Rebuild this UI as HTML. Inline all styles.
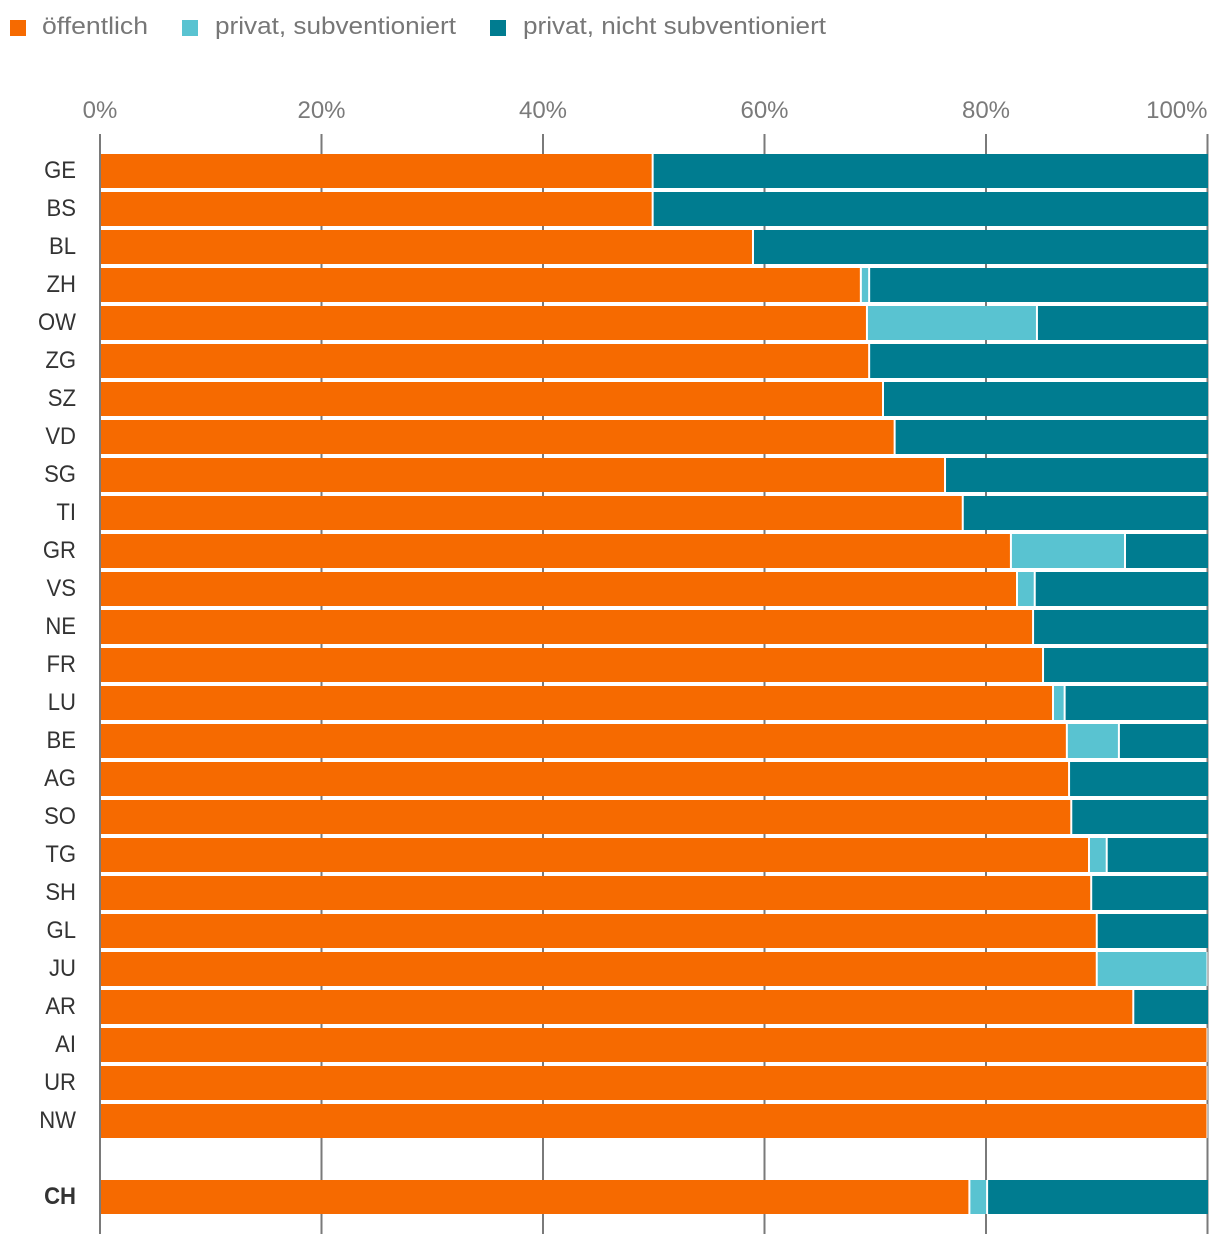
<!DOCTYPE html>
<html lang="de">
<head>
<meta charset="utf-8">
<title>Stacked bar chart</title>
<style>
html,body{margin:0;padding:0;background:#fff;}
svg{display:block;}
text{font-family:"Liberation Sans",sans-serif;font-size:24px;}
</style>
</head>
<body>
<svg id="chart" width="1220" height="1246" viewBox="0 0 1220 1246" xmlns="http://www.w3.org/2000/svg">
  <g>
    <g>
      <rect x="10" y="20" width="16" height="16" fill="#f66a00"/>
      <text x="42" y="34" fill="#777" textLength="106" lengthAdjust="spacingAndGlyphs">öffentlich</text>
    </g>
    <g>
      <rect x="182" y="20" width="16" height="16" fill="#59c3d1"/>
      <text x="215" y="34" fill="#777" textLength="241" lengthAdjust="spacingAndGlyphs">privat, subventioniert</text>
    </g>
    <g>
      <rect x="490" y="20" width="16" height="16" fill="#007c90"/>
      <text x="523" y="34" fill="#777" textLength="303" lengthAdjust="spacingAndGlyphs">privat, nicht subventioniert</text>
    </g>
  </g>
  <g id="grid"></g>
  <g id="ticks"></g>
  <g id="bars"></g>
  <g id="cats"></g>
</svg>
<script>
const categories = ["GE","BS","BL","ZH","OW","ZG","SZ","VD","SG","TI","GR","VS","NE","FR","LU","BE","AG","SO","TG","SH","GL","JU","AR","AI","UR","NW","CH"];
const oeffentlich = [49.9,49.9,58.96,68.7,69.25,69.45,70.7,71.75,76.3,77.9,82.25,82.8,84.25,85.15,86.05,87.3,87.5,87.7,89.3,89.5,90.0,90.0,93.3,100,100,100,78.5];
const subventioniert = [0,0,0,0.75,15.35,0,0,0,0,0,10.3,1.6,0,0,1.05,4.7,0,0,1.6,0,0,10.0,0,0,0,0,1.6];
const nichtSubventioniert = [50.1,50.1,41.04,30.55,15.4,30.55,29.3,28.25,23.7,22.1,7.45,15.6,15.75,14.85,12.9,8.0,12.5,12.3,9.1,10.5,10.0,0,6.7,0,0,0,19.9];
const tickValues = [0,20,40,60,80,100];
const tickLabels = ["0%","20%","40%","60%","80%","100%"];

const SVG_NS = "http://www.w3.org/2000/svg";
function xScale(p){ return 100 + p * 11.075; }
function rowY(i){ return 154 + 38 * (i >= 26 ? i + 1 : i); }
const BAR_H = 34;
const LABEL_CONDENSE = 0.92;

function make(tag, attrs, parent){
  const el = document.createElementNS(SVG_NS, tag);
  for (const k in attrs) el.setAttribute(k, attrs[k]);
  parent.appendChild(el);
  return el;
}

const gridG = document.getElementById("grid");
const ticksG = document.getElementById("ticks");
tickValues.forEach(function(v, i){
  const line = make("line", {x1:xScale(v), x2:xScale(v), y1:134, y2:1234, stroke:"#7a7a7a", "stroke-width":2}, gridG);
  
  
  const isLast = i === tickValues.length - 1;
  const t = make("text", {x:xScale(v), y:118, fill:"#7a7a7a", "text-anchor":isLast ? "end" : "middle"}, ticksG);
  t.textContent = tickLabels[i];
  
  
});

const barsG = document.getElementById("bars");
const catsG = document.getElementById("cats");
const seriesList = [
  {key:"oeffentlich", values:oeffentlich, color:"#f66a00", endPad:-1},
  {key:"privat-subventioniert", values:subventioniert, color:"#59c3d1", endPad:-1},
  {key:"privat-nicht-subventioniert", values:nichtSubventioniert, color:"#007c90", endPad:0.5}
];
categories.forEach(function(cat, i){
  const y = rowY(i);
  const label = make("text", {x:76, y:y + 24, fill:"#333", "text-anchor":"end"}, catsG);
  label.textContent = cat;
  if (cat === "CH") label.setAttribute("font-weight", "700");
  label.setAttribute("textLength", label.getComputedTextLength() * LABEL_CONDENSE);
  label.setAttribute("lengthAdjust", "spacingAndGlyphs");
  
  
  let cum = 0;
  seriesList.forEach(function(s){
    const v = s.values[i];
    if (!v) return;
    const x0 = xScale(cum), x1 = xScale(cum + v);
    const bgStart = cum === 0 ? x0 + 1 : x0;
    const bg = make("rect", {x:bgStart, y:y, width:x1 - bgStart, height:BAR_H, fill:"#fff"}, barsG);
    
    
    const r = make("rect", {x:x0 + 1, y:y, width:(x1 + s.endPad) - (x0 + 1), height:BAR_H, fill:s.color}, barsG);
    
    
    cum += v;
  });
});
</script>
</body>
</html>
